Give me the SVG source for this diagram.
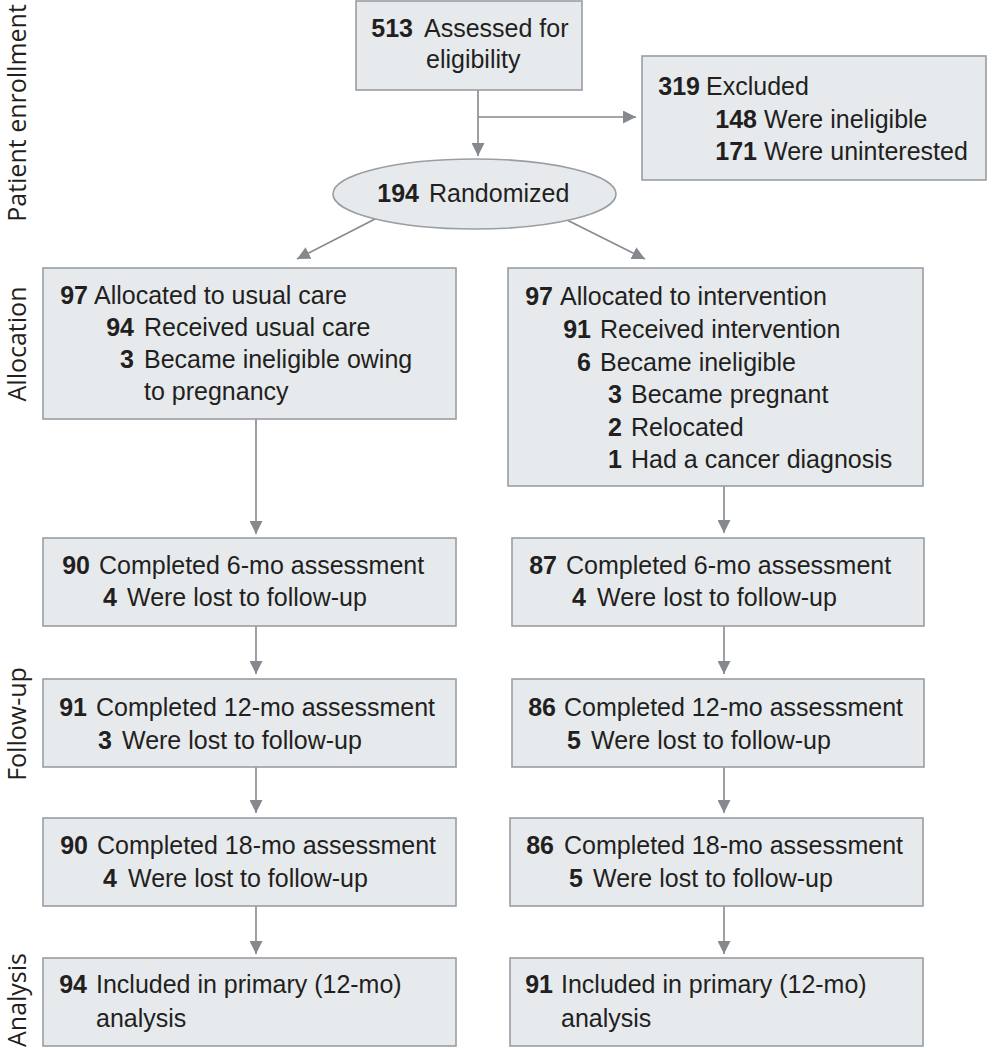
<svg xmlns="http://www.w3.org/2000/svg" width="990" height="1050" viewBox="0 0 990 1050">
<defs>
<style>
.box{fill:#e6eaed;stroke:#9a9ea2;stroke-width:1.6}
.t{font-family:"Liberation Sans",Arial,sans-serif;font-size:25px;fill:#231f20}
.n{font-family:"Liberation Sans",Arial,sans-serif;font-size:25px;font-weight:bold;fill:#231f20;text-anchor:end}
.lab{font-family:"Open Sans","Liberation Sans",sans-serif;font-size:25px;fill:#231f20;text-anchor:middle}
.c{fill:none;stroke:#85898d;stroke-width:1.6}
</style>
<marker id="ah" markerUnits="userSpaceOnUse" markerWidth="14" markerHeight="13" refX="13" refY="6.5" orient="auto">
<path d="M0,0 L13,6.5 L0,13 Z" fill="#85898d"/>
</marker>
</defs>
<rect width="990" height="1050" fill="#ffffff"/>

<g id="labels">
<text class="lab" transform="translate(26,113) rotate(-90)">Patient enrollment</text>
<text class="lab" transform="translate(26,344) rotate(-90)">Allocation</text>
<text class="lab" transform="translate(26,724) rotate(-90)">Follow-up</text>
<text class="lab" transform="translate(26,1000) rotate(-90)">Analysis</text>
</g>

<g id="connectors">
<line class="c" x1="478" y1="90" x2="478" y2="156" marker-end="url(#ah)"/>
<line class="c" x1="478" y1="117" x2="636" y2="117" marker-end="url(#ah)"/>
<line class="c" x1="375" y1="219" x2="297" y2="259" marker-end="url(#ah)"/>
<line class="c" x1="567" y1="220" x2="645" y2="259" marker-end="url(#ah)"/>
<line class="c" x1="256" y1="419" x2="256" y2="534" marker-end="url(#ah)"/>
<line class="c" x1="256" y1="626" x2="256" y2="674" marker-end="url(#ah)"/>
<line class="c" x1="256" y1="767" x2="256" y2="813" marker-end="url(#ah)"/>
<line class="c" x1="256" y1="906" x2="256" y2="954" marker-end="url(#ah)"/>
<line class="c" x1="724" y1="486" x2="724" y2="533" marker-end="url(#ah)"/>
<line class="c" x1="724" y1="626" x2="724" y2="674" marker-end="url(#ah)"/>
<line class="c" x1="724" y1="767" x2="724" y2="813" marker-end="url(#ah)"/>
<line class="c" x1="724" y1="906" x2="724" y2="954" marker-end="url(#ah)"/>
</g>

<g id="assessed">
<rect class="box" x="356" y="1" width="226" height="89"/>
<text class="n" x="413" y="37">513</text>
<text class="t" x="424" y="37">Assessed for</text>
<text class="t" x="426" y="68">eligibility</text>
</g>

<g id="excluded">
<rect class="box" x="642" y="56" width="344" height="124"/>
<text class="n" x="700" y="95">319</text>
<text class="t" x="706" y="95">Excluded</text>
<text class="n" x="757" y="128">148</text>
<text class="t" x="764" y="128">Were ineligible</text>
<text class="n" x="757" y="160">171</text>
<text class="t" x="764" y="160">Were uninterested</text>
</g>

<g id="randomized">
<ellipse class="box" cx="474.5" cy="194" rx="141.5" ry="35"/>
<text class="n" x="419" y="202">194</text>
<text class="t" x="429" y="202">Randomized</text>
</g>

<g id="alloc-usual">
<rect class="box" x="43" y="268" width="413" height="151"/>
<text class="n" x="88" y="304">97</text>
<text class="t" x="94" y="304">Allocated to usual care</text>
<text class="n" x="134" y="336">94</text>
<text class="t" x="144" y="336">Received usual care</text>
<text class="n" x="134" y="368">3</text>
<text class="t" x="144" y="368">Became ineligible owing</text>
<text class="t" x="144" y="400">to pregnancy</text>
</g>

<g id="alloc-intervention">
<rect class="box" x="508" y="268" width="415" height="218"/>
<text class="n" x="553" y="305">97</text>
<text class="t" x="560" y="305">Allocated to intervention</text>
<text class="n" x="591" y="338">91</text>
<text class="t" x="600" y="338">Received intervention</text>
<text class="n" x="591" y="371">6</text>
<text class="t" x="600" y="371">Became ineligible</text>
<text class="n" x="622" y="403">3</text>
<text class="t" x="631" y="403">Became pregnant</text>
<text class="n" x="622" y="436">2</text>
<text class="t" x="631" y="436">Relocated</text>
<text class="n" x="622" y="468">1</text>
<text class="t" x="631" y="468">Had a cancer diagnosis</text>
</g>

<g id="usual-6mo">
<rect class="box" x="43" y="538" width="413" height="88"/>
<text class="n" x="90" y="574">90</text>
<text class="t" x="99" y="574">Completed 6-mo assessment</text>
<text class="n" x="117" y="606">4</text>
<text class="t" x="127" y="606">Were lost to follow-up</text>
</g>

<g id="intervention-6mo">
<rect class="box" x="512" y="538" width="412" height="88"/>
<text class="n" x="557" y="574">87</text>
<text class="t" x="566" y="574">Completed 6-mo assessment</text>
<text class="n" x="586" y="606">4</text>
<text class="t" x="597" y="606">Were lost to follow-up</text>
</g>

<g id="usual-12mo">
<rect class="box" x="43" y="679" width="413" height="88"/>
<text class="n" x="87" y="716">91</text>
<text class="t" x="96" y="716">Completed 12-mo assessment</text>
<text class="n" x="112" y="749">3</text>
<text class="t" x="122" y="749">Were lost to follow-up</text>
</g>

<g id="intervention-12mo">
<rect class="box" x="512" y="679" width="412" height="88"/>
<text class="n" x="556" y="716">86</text>
<text class="t" x="564" y="716">Completed 12-mo assessment</text>
<text class="n" x="581" y="749">5</text>
<text class="t" x="591" y="749">Were lost to follow-up</text>
</g>

<g id="usual-18mo">
<rect class="box" x="43" y="818" width="413" height="88"/>
<text class="n" x="88" y="854">90</text>
<text class="t" x="97" y="854">Completed 18-mo assessment</text>
<text class="n" x="117" y="887">4</text>
<text class="t" x="128" y="887">Were lost to follow-up</text>
</g>

<g id="intervention-18mo">
<rect class="box" x="510" y="818" width="413" height="88"/>
<text class="n" x="554" y="854">86</text>
<text class="t" x="564" y="854">Completed 18-mo assessment</text>
<text class="n" x="583" y="887">5</text>
<text class="t" x="593" y="887">Were lost to follow-up</text>
</g>

<g id="usual-analysis">
<rect class="box" x="43" y="958" width="413" height="88"/>
<text class="n" x="87" y="993">94</text>
<text class="t" x="96" y="993">Included in primary (12-mo)</text>
<text class="t" x="96" y="1027">analysis</text>
</g>

<g id="intervention-analysis">
<rect class="box" x="510" y="958" width="413" height="88"/>
<text class="n" x="553" y="993">91</text>
<text class="t" x="561" y="993">Included in primary (12-mo)</text>
<text class="t" x="561" y="1027">analysis</text>
</g>
</svg>
